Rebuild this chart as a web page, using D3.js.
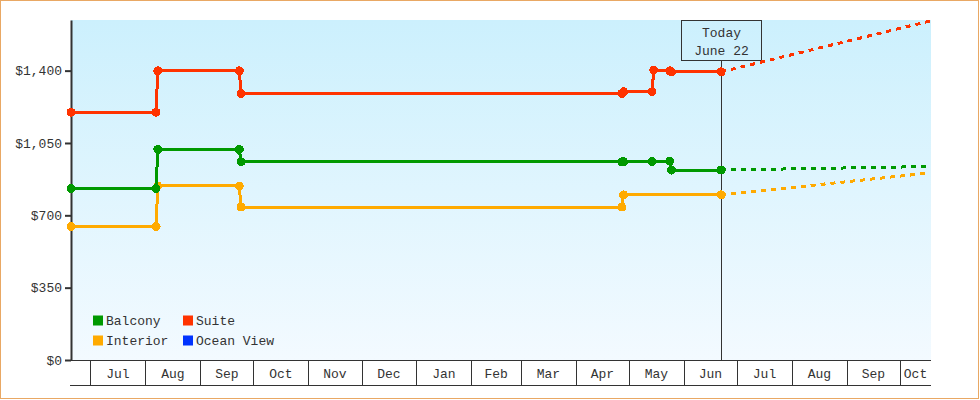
<!DOCTYPE html>
<html>
<head>
<meta charset="utf-8">
<script src="https://cdn.jsdelivr.net/npm/d3@7"></script>
<style>
  body { margin: 0; background: #fff; }
  svg { display: block; }
  text { font-family: "Liberation Mono", "DejaVu Sans Mono", monospace; font-size: 13px; fill: #333; }
</style>
</head>
<body>
<svg width="980" height="400"></svg>
<script>
// price history per cabin type: [date, price]
const interior = [
  ['2017-06-20', 646], ['2017-08-07', 646], ['2017-08-08', 842], ['2017-09-23', 842],
  ['2017-09-24', 740], ['2018-04-27', 740], ['2018-04-28', 799], ['2018-06-22', 799]
];
const balcony = [
  ['2017-06-20', 829], ['2017-08-07', 829], ['2017-08-08', 1019], ['2017-09-23', 1019],
  ['2017-09-24', 959], ['2018-04-27', 959], ['2018-04-28', 959], ['2018-05-14', 961],
  ['2018-05-24', 962], ['2018-05-25', 919], ['2018-06-22', 919]
];
const suite = [
  ['2017-06-20', 1199], ['2017-08-07', 1199], ['2017-08-08', 1399], ['2017-09-23', 1399],
  ['2017-09-24', 1290], ['2018-04-27', 1290], ['2018-04-28', 1298], ['2018-05-14', 1298],
  ['2018-05-15', 1403], ['2018-05-24', 1399], ['2018-05-25', 1394], ['2018-06-22', 1394]
];
const oceanView = [];

// projected prices after today (dashed)
const interiorForecast = [['2018-06-22', 799], ['2018-10-18', 905]];
const balconyForecast = [['2018-06-22', 919], ['2018-10-18', 936]];
const suiteForecast = [['2018-06-22', 1394], ['2018-10-18', 1640]];

const legendNames = ['Balcony', 'Suite', 'Interior', 'Ocean View'];
const legendColors = ['#009900', '#ff3300', '#ffaa00', '#0033ff'];
const priceTicks = [0, 350, 700, 1050, 1400];
const dateRange = ['2017-06-20T00:00Z', '2018-10-18T12:00Z'];
const today = '2018-06-22';
const todayLabel = ['Today', 'June 22'];

const svg = d3.select('svg');
const width = +svg.attr('width');
const height = +svg.attr('height');
const margin = { top: 20, right: 49, bottom: 40, left: 71 };
const innerWidth = width - margin.left - margin.right;
const innerHeight = height - margin.top - margin.bottom;

const parse = d => new Date(d + (d.length === 10 ? 'T00:00Z' : ''));
const x = d3.scaleUtc().domain(dateRange.map(d => new Date(d))).range([0, innerWidth]);
const y = d3.scaleLinear().domain([0, 1645]).range([innerHeight, 0]);

// outer frame
svg.append('rect')
  .attr('x', 0.5).attr('y', 0.5)
  .attr('width', width - 2).attr('height', height - 2)
  .attr('fill', '#fff')
  .attr('stroke', '#e9a864');

const defs = svg.append('defs');
const grad = defs.append('linearGradient')
  .attr('id', 'bg').attr('x1', 0).attr('y1', 0).attr('x2', 0).attr('y2', 1);
grad.append('stop').attr('offset', '0%').attr('stop-color', '#ccf0fd');
grad.append('stop').attr('offset', '100%').attr('stop-color', '#f3faff');

const g = svg.append('g').attr('transform', `translate(${margin.left}, ${margin.top})`);

g.append('rect')
  .attr('width', innerWidth)
  .attr('height', innerHeight)
  .attr('fill', 'url(#bg)');

// month band axis under the plot
const xAxis = g.append('g').attr('class', 'x-axis');
const months = d3.utcMonth.range(d3.utcMonth.ceil(x.domain()[0]), x.domain()[1]);
xAxis.append('line')
  .attr('x1', -1).attr('x2', innerWidth)
  .attr('y1', innerHeight + 0.5).attr('y2', innerHeight + 0.5)
  .attr('stroke', '#333');
xAxis.append('line')
  .attr('x1', -1).attr('x2', innerWidth)
  .attr('y1', innerHeight + 25.5).attr('y2', innerHeight + 25.5)
  .attr('stroke', '#333');
months.forEach(m => {
  const x0 = x(m);
  const x1 = Math.min(x(d3.utcMonth.offset(m, 1)), innerWidth);
  xAxis.append('line')
    .attr('x1', Math.round(x0) + 0.5).attr('x2', Math.round(x0) + 0.5)
    .attr('y1', innerHeight).attr('y2', innerHeight + 25)
    .attr('stroke', '#333');
  xAxis.append('text')
    .attr('x', (x0 + x1) / 2)
    .attr('y', innerHeight + 17.5)
    .attr('text-anchor', 'middle')
    .text(d3.utcFormat('%b')(m));
});

// y axis
const yAxis = g.append('g')
  .call(d3.axisLeft(y).tickValues(priceTicks).tickFormat(d3.format('$,')).tickSize(6).tickPadding(3).tickSizeOuter(0));
yAxis.select('.domain').attr('stroke', '#333').attr('stroke-width', 2);
yAxis.selectAll('.tick line').attr('stroke', '#333').attr('stroke-width', 2);
yAxis.selectAll('.tick text')
  .attr('font-family', null).attr('font-size', null)
  .attr('fill', null);
yAxis.attr('font-family', null).attr('font-size', null);

// today marker
const tx = Math.round(x(parse(today))) + 0.5;
g.append('line')
  .attr('x1', tx).attr('x2', tx)
  .attr('y1', 40).attr('y2', innerHeight)
  .attr('stroke', '#333');
g.append('rect')
  .attr('x', tx - 40).attr('y', 0.5)
  .attr('width', 80).attr('height', 40)
  .attr('fill', 'none').attr('stroke', '#333');
g.selectAll('.today-label')
  .data(todayLabel)
  .enter().append('text')
  .attr('class', 'today-label')
  .attr('x', tx)
  .attr('y', (d, i) => 17 + i * 18)
  .attr('text-anchor', 'middle')
  .text(d => d);

// series
const line = d3.line()
  .x(d => x(parse(d[0])))
  .y(d => y(d[1]));

const series = [
  { data: interior, forecast: interiorForecast, color: '#ffaa00' },
  { data: balcony, forecast: balconyForecast, color: '#009900' },
  { data: suite, forecast: suiteForecast, color: '#ff3300' },
  { data: oceanView, forecast: [], color: '#0033ff' }
];

const sg = g.append('g').attr('shape-rendering', 'crispEdges');
series.forEach(s => {
  if (s.forecast.length) {
    sg.append('path')
      .attr('d', line(s.forecast))
      .attr('fill', 'none')
      .attr('stroke', s.color)
      .attr('stroke-width', 3)
      .attr('stroke-dasharray', '5,5');
  }
  if (s.data.length) {
    sg.append('path')
      .attr('d', line(s.data))
      .attr('fill', 'none')
      .attr('stroke', s.color)
      .attr('stroke-width', 3);
  }
  sg.selectAll(null)
    .data(s.data)
    .enter().append('circle')
    .attr('cx', d => x(parse(d[0])))
    .attr('cy', d => y(d[1]))
    .attr('r', 4.5)
    .attr('fill', s.color);
});

// legend
const legend = g.append('g').attr('transform', 'translate(22, 295)');
const items = legend.selectAll('g')
  .data(legendNames)
  .enter().append('g')
  .attr('transform', (d, i) => `translate(${(i % 2) * 90}, ${Math.floor(i / 2) * 20})`);
items.append('rect')
  .attr('width', 10).attr('height', 10)
  .attr('y', 0.5)
  .attr('fill', (d, i) => legendColors[i]);
items.append('text')
  .attr('x', 13)
  .attr('y', 10)
  .text(d => d);
</script>
</body>
</html>
